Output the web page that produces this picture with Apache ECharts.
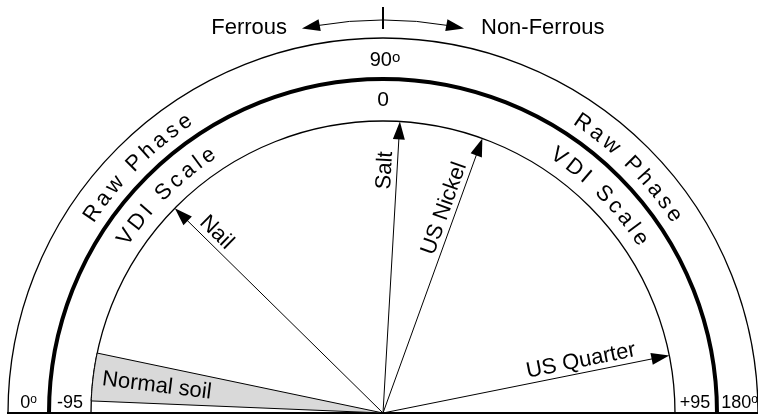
<!DOCTYPE html>
<html>
<head>
<meta charset="utf-8">
<script src="https://cdn.jsdelivr.net/npm/echarts@6/dist/echarts.min.js"></script>
<style>
  html, body { margin: 0; padding: 0; background: #fff; }
  #chart { width: 758px; height: 416px; }
</style>
</head>
<body>
<div id="chart"></div>
<script>
// VDI scale: -95 at the left, 0 straight up, +95 at the right
const targets = ['Salt', 'US Nickel', 'Nail', 'US Quarter'];
const targetVdi = [3.5, 21, -48, 83];
const soilName = 'Normal soil';
const soilVdi = [-92.5, -82.5];
const vdiEnds = ['-95', '+95'];
const phaseEnds = ['0', '180'];
const topValues = ['90', '0'];          // raw phase / VDI at the top
const bandTitles = ['Raw Phase', 'VDI Scale'];
const sideLabels = ['Ferrous', 'Non-Ferrous'];

// layout
const FONT = '"Liberation Sans", Arial, sans-serif';
const CX = 383, CY = 413;
const R_IN = 292, R_MID = 334, R_OUT = 375, R_TOP = 393;
const labelAlong = { 'Salt': 0.83, 'US Nickel': 0.73, 'Nail': 0.84, 'US Quarter': 0.70 };
const labelGap = 12;
const HEAD_L = 18, HEAD_W = 6;

const measure = document.createElement('canvas').getContext('2d');
const rad = d => d * Math.PI / 180;

function txt(x, y, text, size, align, extra) {
  return Object.assign({
    type: 'text', x: x, y: y, silent: true,
    style: { text: text, fontSize: size, fontFamily: FONT, fill: '#000',
             align: align || 'center', verticalAlign: 'middle' }
  }, extra || {});
}

function degText(x, y, num, size, oSize) {
  return {
    type: 'text', x: x, y: y, silent: true,
    style: {
      text: '{n|' + num + '}{d|o}', align: 'center', verticalAlign: 'middle',
      rich: {
        n: { fontSize: size, fontFamily: FONT, fill: '#000' },
        d: { fontSize: oSize, fontFamily: FONT, fill: '#000', verticalAlign: 'top' }
      }
    }
  };
}

// characters set clockwise along a circle round (CX, CY)
function arcText(str, r, midDeg, size, spacing) {
  measure.font = size + 'px ' + FONT;
  const chars = str.split('');
  const w = chars.map(c => measure.measureText(c).width);
  const total = w.reduce((a, b) => a + b, 0) + spacing * (chars.length - 1);
  let s = -total / 2;
  return chars.map((c, i) => {
    const mid = s + w[i] / 2;
    s += w[i] + spacing;
    const phi = rad(midDeg) - mid / r;
    return txt(CX + r * Math.cos(phi), CY - r * Math.sin(phi), c, size, 'center',
               { rotation: phi - Math.PI / 2 });
  });
}

function head(tip, dx, dy) {
  const len = Math.hypot(dx, dy), ux = dx / len, uy = dy / len;
  const bx = tip[0] - ux * HEAD_L, by = tip[1] - uy * HEAD_L;
  return {
    type: 'polygon', silent: true,
    shape: { points: [tip, [bx - uy * HEAD_W, by + ux * HEAD_W], [bx + uy * HEAD_W, by - ux * HEAD_W]] },
    style: { fill: '#000' }
  };
}

function alongLabel(o, tip, frac, gap, text) {
  const dx = tip[0] - o[0], dy = tip[1] - o[1];
  let rot = Math.atan2(-dy, dx);
  if (rot > Math.PI / 2 + 1e-6) rot -= Math.PI;
  if (rot < -Math.PI / 2 - 1e-6) rot += Math.PI;
  const ux = -Math.sin(rot), uy = -Math.cos(rot);
  return txt(o[0] + dx * frac + ux * gap, o[1] + dy * frac + uy * gap, text, 22, 'center',
             { rotation: rot });
}

// Ferrous / Non-Ferrous arrow on top
function topArrow() {
  const span = 11.9, back = HEAD_L / R_TOP;
  const pt = p => [CX + R_TOP * Math.cos(p), CY - R_TOP * Math.sin(p)];
  const out = [{
    type: 'arc', silent: true,
    shape: { cx: CX, cy: CY, r: R_TOP,
             startAngle: -rad(90 + span) + back * 0.8, endAngle: -rad(90 - span) - back * 0.8 },
    style: { stroke: '#000', lineWidth: 1, fill: null }
  }];
  [[rad(90 + span), 1], [rad(90 - span), -1]].forEach(([p, sgn]) => {
    const tip = pt(p), base = pt(p - sgn * back);
    out.push(head(tip, tip[0] - base[0], tip[1] - base[1]));
  });
  out.push({
    type: 'line', silent: true,
    shape: { x1: CX, y1: 7, x2: CX, y2: 29 },
    style: { stroke: '#000', lineWidth: 2 }
  });
  return out;
}

function ring(r, w) {
  return {
    type: 'arc', silent: true,
    shape: { cx: CX, cy: CY, r: r, startAngle: Math.PI, endAngle: 2 * Math.PI },
    style: { stroke: '#000', lineWidth: w, fill: null }
  };
}

const graphics = [
  ring(R_IN, 1.3), ring(R_MID, 4), ring(R_OUT, 1.3),
  { type: 'line', silent: true, shape: { x1: CX - R_OUT - 1, y1: CY, x2: CX + R_OUT + 2, y2: CY },
    style: { stroke: '#000', lineWidth: 2 } },
  txt(287, 28, sideLabels[0], 22, 'right'),
  txt(481, 28, sideLabels[1], 22, 'left'),
  degText(CX + 2, 60, topValues[0], 20, 15),
  txt(CX, 100, topValues[1], 21),
  degText(28.5, 403, phaseEnds[0], 18, 12),
  degText(739.5, 403, phaseEnds[1], 18, 12),
  txt(70, 403, vdiEnds[0], 18),
  txt(695, 403, vdiEnds[1], 18)
].concat(topArrow(),
  arcText(bandTitles[0], 352, 135, 22, 4),
  arcText(bandTitles[0], 352, 45, 22, 4),
  arcText(bandTitles[1], 311, 135, 22, 4),
  arcText(bandTitles[1], 311, 45, 22, 4));

const chart = echarts.init(document.getElementById('chart'));
chart.setOption({
  animation: false,
  backgroundColor: '#fff',
  polar: { center: [CX, CY], radius: R_IN },
  angleAxis: { type: 'value', min: -95, max: 285, startAngle: 180, clockwise: true, show: false },
  radiusAxis: { type: 'value', min: 0, max: 1, show: false },
  graphic: { elements: graphics },
  series: [
    {
      type: 'custom', name: soilName, coordinateSystem: 'polar', z: 1,
      data: [[1, soilVdi[0], soilVdi[1]]],
      encode: { radius: 0, angle: [1, 2] },
      renderItem: function (params, api) {
        const a0 = api.value(1), a1 = api.value(2);
        const o = api.coord([0, a0]);
        const pts = [o];
        for (let k = 0; k <= 20; k++) pts.push(api.coord([1, a0 + (a1 - a0) * k / 20]));
        const am = (a0 + a1) / 2;
        return {
          type: 'group',
          children: [
            { type: 'polygon', shape: { points: pts }, style: { fill: '#d9d9d9', stroke: '#000', lineWidth: 1 } },
            alongLabel(o, api.coord([1, am]), 0.78, -1, soilName)
          ]
        };
      }
    },
    {
      type: 'custom', name: 'targets', coordinateSystem: 'polar', z: 2,
      data: targets.map((n, i) => [1, targetVdi[i], n]),
      encode: { radius: 0, angle: 1 },
      renderItem: function (params, api) {
        const v = api.value(1);
        const name = targets[params.dataIndex];
        const o = api.coord([0, v]);
        const tip = api.coord([1, v]);
        const dx = tip[0] - o[0], dy = tip[1] - o[1];
        const len = Math.hypot(dx, dy);
        const end = [tip[0] - dx / len * HEAD_L * 0.5, tip[1] - dy / len * HEAD_L * 0.5];
        return {
          type: 'group',
          children: [
            { type: 'line', shape: { x1: o[0], y1: o[1], x2: end[0], y2: end[1] },
              style: { stroke: '#000', lineWidth: 1 } },
            head(tip, dx, dy),
            alongLabel(o, tip, labelAlong[name], labelGap, name)
          ]
        };
      }
    }
  ]
});
</script>
</body>
</html>
